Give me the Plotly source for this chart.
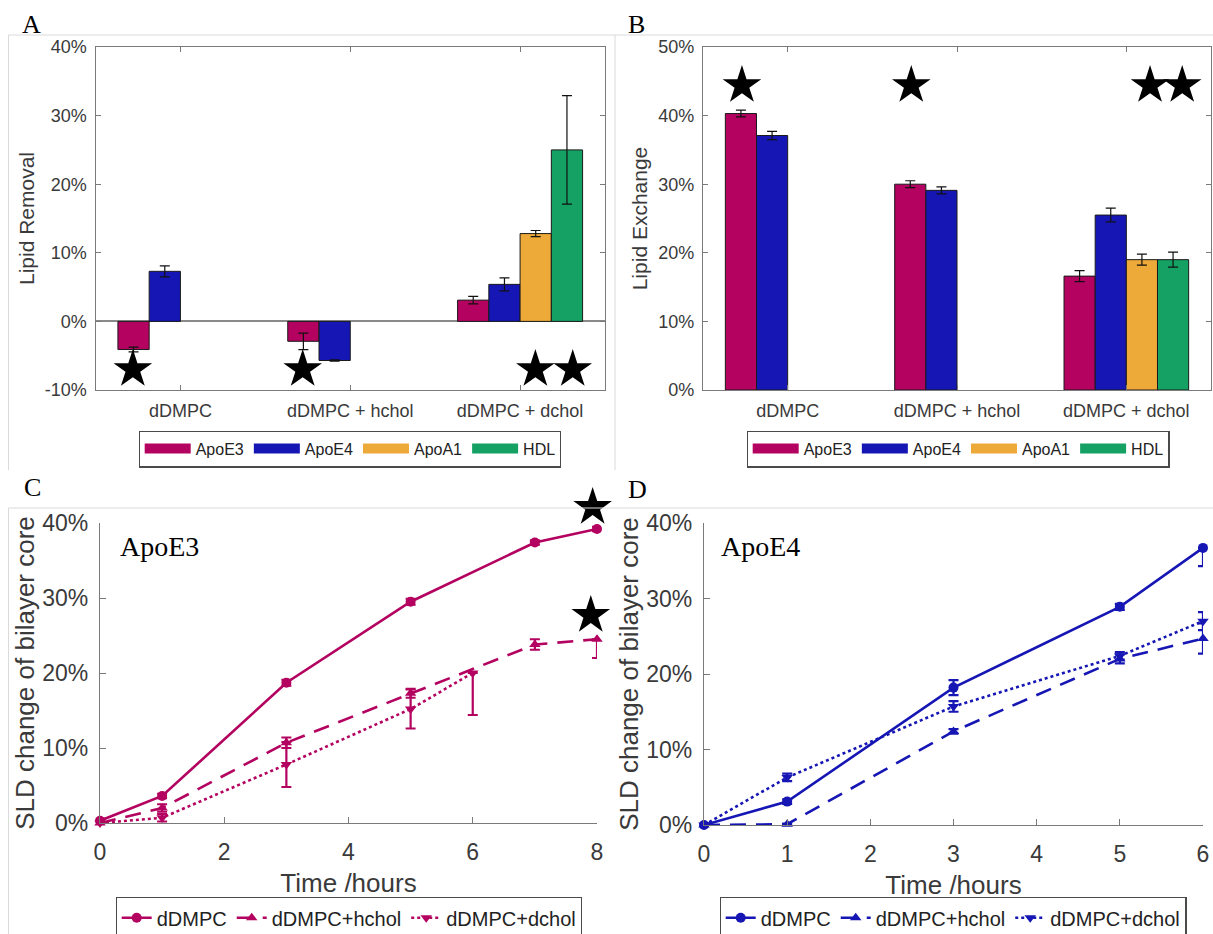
import plotly.graph_objects as go

# ---------------- data ----------------
categories = ["dDMPC", "dDMPC + hchol", "dDMPC + dchol"]
series_names = ["ApoE3", "ApoE4", "ApoA1", "HDL"]

# Panel A: lipid removal (%)
removal_apoe3 = [-4.1, -2.9, 3.1]
removal_apoe3_err = [0.35, 1.2, 0.55]
removal_apoe4 = [7.3, -5.7, 5.4]
removal_apoe4_err = [0.8, 0.1, 0.95]
removal_apoa1 = [None, None, 12.8]
removal_apoa1_err = [0, 0, 0.45]
removal_hdl = [None, None, 25.0]
removal_hdl_err = [0, 0, 7.9]

# Panel B: lipid exchange (%)
exchange_apoe3 = [40.3, 30.0, 16.6]
exchange_apoe3_err = [0.5, 0.5, 0.8]
exchange_apoe4 = [37.1, 29.1, 25.5]
exchange_apoe4_err = [0.6, 0.5, 1.0]
exchange_apoa1 = [None, None, 19.0]
exchange_apoa1_err = [0, 0, 0.8]
exchange_hdl = [None, None, 19.0]
exchange_hdl_err = [0, 0, 1.1]

# significance stars
stars_a_x = [-0.28, 0.72, 2.09, 2.31]
stars_a_y = [-7.0, -7.0, -7.0, -7.0]
stars_b_x = [-0.27, 0.73, 2.14, 2.33]
stars_b_y = [44.4, 44.4, 44.4, 44.4]
stars_c_x = [7.93, 7.90]
stars_c_y = [42.1, 27.7]

# Panel C: ApoE3 time course
c_t_dmpc = [0, 1, 3, 5, 7, 8]
c_dmpc = [0.3, 3.6, 18.7, 29.5, 37.4, 39.2]
c_dmpc_err = [0.3, 0.3, 0.4, 0.4, 0.3, 0.3]
c_t_hchol = [0, 1, 3, 5, 7, 8]
c_hchol = [0.0, 2.0, 10.7, 17.3, 23.8, 24.5]
c_hchol_err_plus = [0.2, 0.5, 0.7, 0.6, 0.7, 0.0]
c_hchol_err_minus = [0.2, 0.5, 0.7, 0.6, 0.7, 2.5]
c_t_dchol = [0, 1, 3, 5, 6]
c_dchol = [0.0, 0.7, 7.8, 15.2, 20.0]
c_dchol_err_plus = [0.2, 0.5, 3.0, 2.6, 0.0]
c_dchol_err_minus = [0.2, 0.5, 3.0, 2.6, 5.6]

# Panel D: ApoE4 time course
d_t = [0, 1, 3, 5, 6]
d_dmpc = [0.0, 3.1, 18.2, 28.9, 36.7]
d_dmpc_err_plus = [0.2, 0.3, 1.0, 0.4, 0.0]
d_dmpc_err_minus = [0.2, 0.3, 1.0, 0.4, 2.4]
d_hchol = [0.0, 0.1, 12.4, 22.0, 24.7]
d_hchol_err = [0.1, 0.1, 0.3, 0.6, 2.0]
d_dchol = [0.0, 6.3, 15.7, 22.4, 27.0]
d_dchol_err = [0.2, 0.5, 0.7, 0.5, 1.2]

line_names = ["dDMPC", "dDMPC+hchol", "dDMPC+dchol"]

a_ticks = [-10, 0, 10, 20, 30, 40]
a_ticktext = ["-10%", "0%", "10%", "20%", "30%", "40%"]
b_ticks = [0, 10, 20, 30, 40, 50]
b_ticktext = ["0%", "10%", "20%", "30%", "40%", "50%"]
cd_yticks = [0, 10, 20, 30, 40]
cd_yticktext = ["0%", "10%", "20%", "30%", "40%"]

# ---------------- style ----------------
W, H = 1213, 934
C_E3 = "#B3025F"
C_E4 = "#1616B4"
C_A1 = "#EDAA38"
C_HDL = "#15A164"
bar_colors = [C_E3, C_E4, C_A1, C_HDL]
AX = "#7a7a7a"
TXT = "#3a3a3a"
SANS = "Liberation Sans, Arial, sans-serif"
SERIF = "Liberation Serif, Times New Roman, serif"


def fx(p):
    return p / W


def fy(p):
    return 1 - p / H


fig = go.Figure()

removal = [(removal_apoe3, removal_apoe3_err), (removal_apoe4, removal_apoe4_err),
           (removal_apoa1, removal_apoa1_err), (removal_hdl, removal_hdl_err)]
exchange = [(exchange_apoe3, exchange_apoe3_err), (exchange_apoe4, exchange_apoe4_err),
            (exchange_apoa1, exchange_apoa1_err), (exchange_hdl, exchange_hdl_err)]
xcat = list(range(len(categories)))

for dataset, xa, ya, lg in [(removal, "x", "y", "legend"), (exchange, "x2", "y2", "legend2")]:
    for name, color, (vals, errs) in zip(series_names, bar_colors, dataset):
        fig.add_trace(go.Bar(
            x=xcat, y=vals, name=name, xaxis=xa, yaxis=ya,
            marker=dict(color=color, line=dict(color="#1a1a1a", width=1)),
            error_y=dict(type="data", array=errs, visible=True, color="#111111",
                         thickness=1.2, width=5),
            showlegend=False, offsetgroup=name,
        ))
        # legend proxy (wide rectangular patch like the original)
        fig.add_trace(go.Scatter(
            x=[None], y=[None], mode="lines", name=name, xaxis=xa, yaxis=ya,
            line=dict(color=color, width=16), legend=lg, showlegend=True,
        ))

dash_long = "16px,10px"


def line_trace(x, y, ep, em, name, color, dash, symbol, xa, ya, lg):
    return go.Scatter(
        x=x, y=y, mode="lines+markers", name=name, xaxis=xa, yaxis=ya,
        line=dict(color=color, width=2.6, dash=dash),
        marker=dict(symbol=symbol, size=10, color=color),
        error_y=dict(type="data", array=ep, arrayminus=em, symmetric=False,
                     visible=True, color=color, thickness=2.2, width=5),
        legend=lg, cliponaxis=False,
    )


fig.add_trace(line_trace(c_t_dmpc, c_dmpc, c_dmpc_err, c_dmpc_err, line_names[0], C_E3,
                         "solid", "circle", "x3", "y3", "legend3"))
fig.add_trace(line_trace(c_t_hchol, c_hchol, c_hchol_err_plus, c_hchol_err_minus, line_names[1],
                         C_E3, dash_long, "triangle-up", "x3", "y3", "legend3"))
fig.add_trace(line_trace(c_t_dchol, c_dchol, c_dchol_err_plus, c_dchol_err_minus, line_names[2],
                         C_E3, "dot", "triangle-down", "x3", "y3", "legend3"))

fig.add_trace(line_trace(d_t, d_dmpc, d_dmpc_err_plus, d_dmpc_err_minus, line_names[0], C_E4,
                         "solid", "circle", "x4", "y4", "legend4"))
fig.add_trace(line_trace(d_t, d_hchol, d_hchol_err, d_hchol_err, line_names[1], C_E4,
                         dash_long, "triangle-up", "x4", "y4", "legend4"))
fig.add_trace(line_trace(d_t, d_dchol, d_dchol_err, d_dchol_err, line_names[2], C_E4,
                         "dot", "triangle-down", "x4", "y4", "legend4"))

# significance stars as star markers
star_marker = dict(symbol="star", size=29, color="black", line=dict(width=0))
for xs, ys, xa, ya in [(stars_a_x, stars_a_y, "x", "y"), (stars_b_x, stars_b_y, "x2", "y2"),
                       (stars_c_x, stars_c_y, "x3", "y5")]:
    fig.add_trace(go.Scatter(x=xs, y=ys, mode="markers", marker=star_marker, xaxis=xa,
                             yaxis=ya, showlegend=False, cliponaxis=False, hoverinfo="skip"))

# ---------------- axes ----------------
tickfont_ab = dict(family=SANS, size=18, color=TXT)
tickfont_cd = dict(family=SANS, size=23, color=TXT)

box_axis = dict(showline=True, linecolor=AX, linewidth=1.2, mirror="ticks",
                ticks="inside", ticklen=5, tickcolor=AX, showgrid=False, automargin=False)
open_axis = dict(showline=True, linecolor=AX, linewidth=1.2, ticks="inside", ticklen=6,
                 tickcolor=AX, showgrid=False, zeroline=False, automargin=False)

C_TOP, C_BOT, C_EXT = 523, 823, 490   # C axis: 40% at C_TOP; star layer extends up to C_EXT
C_RANGE = [0, 40]
star_range_c = [0, C_RANGE[1] * (C_BOT - C_EXT) / (C_BOT - C_TOP)]

layout = dict(
    width=W, height=H, margin=dict(l=0, r=0, t=0, b=0, autoexpand=False),
    paper_bgcolor="white", plot_bgcolor="rgba(0,0,0,0)",
    barmode="group", bargap=0.264, bargroupgap=0,
    font=dict(family=SANS, color=TXT),
    xaxis=dict(domain=[fx(95.5), fx(605)], range=[-0.5, 2.5], tickvals=xcat,
               ticktext=categories, tickfont=tickfont_ab, anchor="y", zeroline=False,
               ticklabelstandoff=4, **box_axis),
    yaxis=dict(domain=[fy(390), fy(47)], range=[-10, 40], tickvals=a_ticks, ticktext=a_ticktext,
               tickfont=tickfont_ab, anchor="x", zeroline=True, zerolinecolor="#8a8a8a",
               zerolinewidth=1.5, ticklabelstandoff=4,
               title=dict(text="Lipid Removal", font=dict(family=SANS, size=21, color=TXT),
                          standoff=4), **box_axis),
    xaxis2=dict(domain=[fx(703), fx(1211)], range=[-0.5, 2.5], tickvals=xcat,
                ticktext=categories, tickfont=tickfont_ab, anchor="y2", zeroline=False,
                ticklabelstandoff=4, **box_axis),
    yaxis2=dict(domain=[fy(390), fy(47)], range=[0, 50], tickvals=b_ticks, ticktext=b_ticktext,
                tickfont=tickfont_ab, anchor="x2", zeroline=False, ticklabelstandoff=4,
                title=dict(text="Lipid Exchange", font=dict(family=SANS, size=21, color=TXT),
                           standoff=4), **box_axis),
    xaxis3=dict(domain=[fx(100), fx(597)], range=[0, 8], tickvals=[0, 2, 4, 6, 8],
                tickfont=tickfont_cd, anchor="y3", ticklabelstandoff=8,
                title=dict(text="Time /hours", font=dict(family=SANS, size=26, color=TXT),
                           standoff=10), **open_axis),
    yaxis3=dict(domain=[fy(C_BOT), fy(C_TOP)], range=C_RANGE, tickvals=cd_yticks,
                ticktext=cd_yticktext, tickfont=tickfont_cd, anchor="x3", ticklabelstandoff=6,
                title=dict(text="SLD change of bilayer core",
                           font=dict(family=SANS, size=26, color=TXT), standoff=0),
                **open_axis),
    yaxis5=dict(domain=[fy(C_BOT), fy(C_EXT)], range=star_range_c, anchor="x3", visible=False,
                showgrid=False, zeroline=False),
    xaxis4=dict(domain=[fx(704), fx(1203)], range=[0, 6], tickvals=[0, 1, 2, 3, 4, 5, 6],
                tickfont=tickfont_cd, anchor="y4", ticklabelstandoff=8,
                title=dict(text="Time /hours", font=dict(family=SANS, size=26, color=TXT),
                           standoff=10), **open_axis),
    yaxis4=dict(domain=[fy(825), fy(523)], range=[0, 40], tickvals=cd_yticks,
                ticktext=cd_yticktext, tickfont=tickfont_cd, anchor="x4", ticklabelstandoff=6,
                title=dict(text="SLD change of bilayer core",
                           font=dict(family=SANS, size=26, color=TXT), standoff=0),
                **open_axis),
)

leg_common = dict(orientation="h", bgcolor="white", bordercolor="#4a4a4a", borderwidth=1.2,
                  xanchor="center", yanchor="middle", tracegroupgap=0)
layout["legend"] = dict(x=fx(350), y=fy(449), font=dict(family=SANS, size=16, color="#222"),
                        itemwidth=46, **leg_common)
layout["legend2"] = dict(x=fx(958), y=fy(449), font=dict(family=SANS, size=16, color="#222"),
                         itemwidth=46, **leg_common)
layout["legend3"] = dict(x=fx(349), y=fy(918), font=dict(family=SANS, size=20, color="#222"),
                         itemwidth=30, **leg_common)
layout["legend4"] = dict(x=fx(953), y=fy(918), font=dict(family=SANS, size=20, color="#222"),
                         itemwidth=30, **leg_common)

fig.update_layout(**layout)

# panel letters and inset labels
for txt, x, y in [("A", 31, 25), ("B", 636, 25), ("C", 32, 488), ("D", 637, 490)]:
    fig.add_annotation(text=txt, x=fx(x), y=fy(y), xref="paper", yref="paper",
                       xanchor="center", yanchor="middle", showarrow=False,
                       font=dict(family=SERIF, size=26, color="black"))
for txt, x in [("ApoE3", 118), ("ApoE4", 719)]:
    fig.add_annotation(text=txt, x=fx(x), y=fy(546), xref="paper", yref="paper",
                       xanchor="left", yanchor="middle", showarrow=False,
                       font=dict(family=SERIF, size=28, color="black"))

# faint screenshot frame lines
frame = dict(type="line", xref="paper", yref="paper", line=dict(color="#dadada", width=1))
for x0, y0, x1, y1 in [(8.5, 35, 1213, 35), (8.5, 35, 8.5, 470), (615, 35, 615, 470),
                       (8.5, 508, 1213, 508), (8.5, 508, 8.5, 934)]:
    fig.add_shape(x0=fx(x0), y0=fy(y0), x1=fx(x1), y1=fy(y1), **frame)

# let the figure fill the window exactly (no default page margin / scrollbars)
page_fix = ("document.body.style.margin='0';"
            "document.documentElement.style.overflow='hidden';"
            "document.body.style.overflow='hidden';")
fig.write_html("out.html", post_script=page_fix, config={"displayModeBar": False})
